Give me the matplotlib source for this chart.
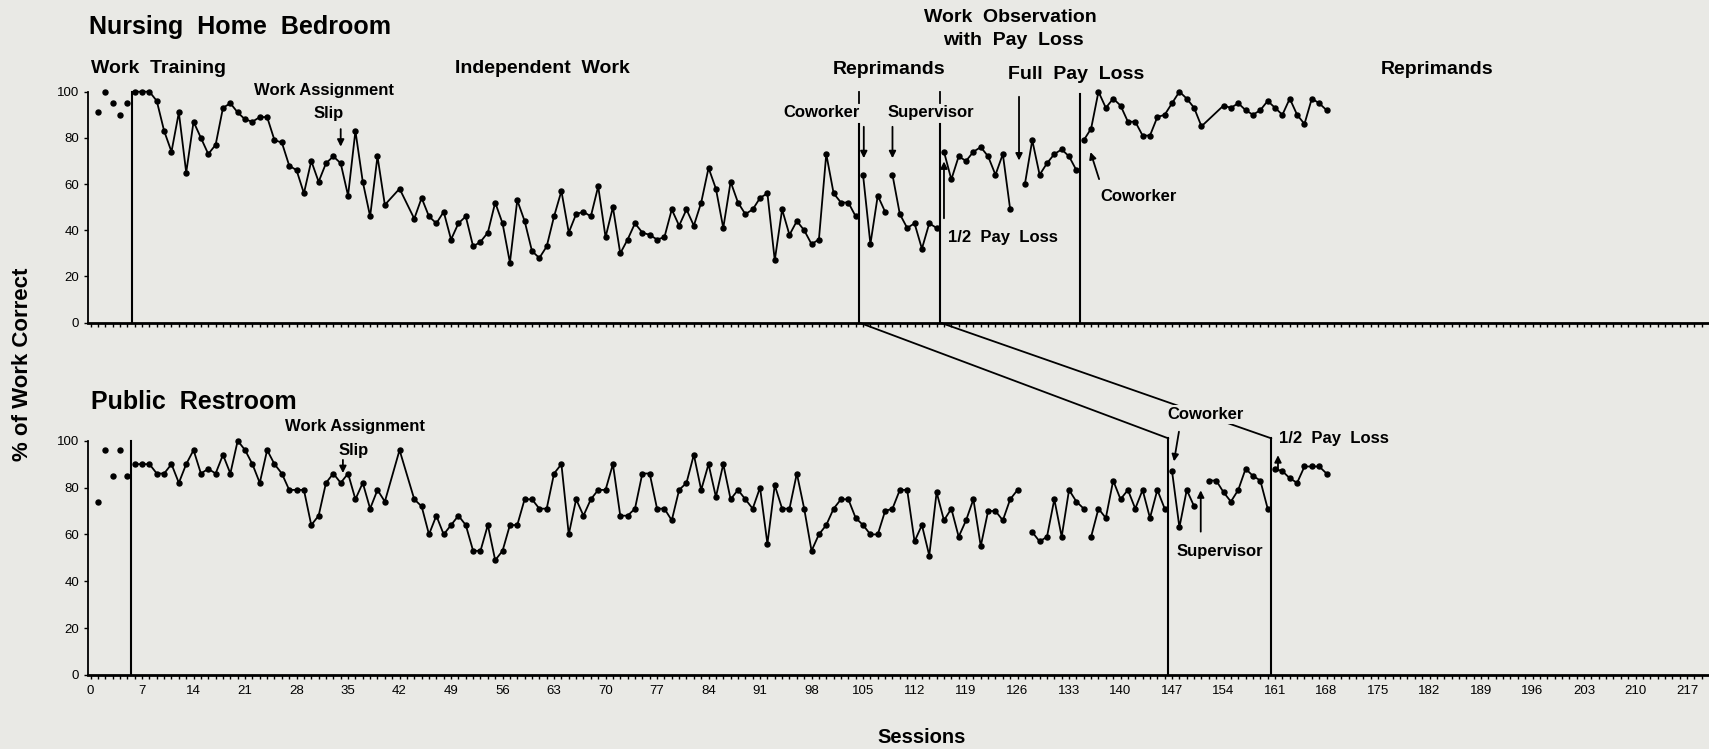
import matplotlib
matplotlib.use('Agg')
import matplotlib.pyplot as plt
from matplotlib.patches import ConnectionPatch

# ---- Nursing Home Bedroom (top) ----
bed_base_s = [1, 2, 3, 4, 5]
bed_base_v = [91, 100, 95, 90, 95]

bed_indep_s = [6, 7, 8, 9, 10, 11, 12, 13, 14, 15, 16, 17, 18, 19, 20, 21, 22, 23, 24, 25,
               26, 27, 28, 29, 30, 31, 32, 33, 34, 35, 36, 37, 38, 39, 40, 42, 44, 45, 46, 47,
               48, 49, 50, 51, 52, 53, 54, 55, 56, 57, 58, 59, 60, 61, 62, 63, 64, 65, 66, 67,
               68, 69, 70, 71, 72, 73, 74, 75, 76, 77, 78, 79, 80, 81, 82, 83, 84, 85, 86, 87,
               88, 89, 90, 91, 92, 93, 94, 95, 96, 97, 98, 99, 100, 101, 102, 103, 104]
bed_indep_v = [100, 100, 100, 96, 83, 74, 91, 65, 87, 80, 73, 77, 93, 95, 91, 88, 87, 89, 89, 79,
               78, 68, 66, 56, 70, 61, 69, 72, 69, 55, 83, 61, 46, 72, 51, 58, 45, 54, 46, 43,
               48, 36, 43, 46, 33, 35, 39, 52, 43, 26, 53, 44, 31, 28, 33, 46, 57, 39, 47, 48,
               46, 59, 37, 50, 30, 36, 43, 39, 38, 36, 37, 49, 42, 49, 42, 52, 67, 58, 41, 61,
               52, 47, 49, 54, 56, 27, 49, 38, 44, 40, 34, 36, 73, 56, 52, 52, 46]

bed_cow_s = [105, 106, 107, 108]
bed_cow_v = [64, 34, 55, 48]
bed_sup_s = [109, 110, 111, 112, 113, 114, 115]
bed_sup_v = [64, 47, 41, 43, 32, 43, 41]
bed_half_s = [116, 117, 118, 119, 120, 121, 122, 123, 124, 125]
bed_half_v = [74, 62, 72, 70, 74, 76, 72, 64, 73, 49]
bed_full_s = [127, 128, 129, 130, 131, 132, 133, 134]
bed_full_v = [60, 79, 64, 69, 73, 75, 72, 66]
bed_rep_s = [135, 136, 137, 138, 139, 140, 141, 142, 143, 144, 145, 146, 147, 148, 149, 150,
             151, 154, 155, 156, 157, 158, 159, 160, 161, 162, 163, 164, 165, 166, 167, 168]
bed_rep_v = [79, 84, 100, 93, 97, 94, 87, 87, 81, 81, 89, 90, 95, 100, 97, 93,
             85, 94, 93, 95, 92, 90, 92, 96, 93, 90, 97, 90, 86, 97, 95, 92]

# ---- Public Restroom (bottom) ----
rest_base_s = [1, 2, 3, 4, 5]
rest_base_v = [74, 96, 85, 96, 85]

rest_indep_s = [6, 7, 8, 9, 10, 11, 12, 13, 14, 15, 16, 17, 18, 19, 20, 21, 22, 23, 24, 25,
                26, 27, 28, 29, 30, 31, 32, 33, 34, 35, 36, 37, 38, 39, 40, 42, 44, 45, 46, 47,
                48, 49, 50, 51, 52, 53, 54, 55, 56, 57, 58, 59, 60, 61, 62, 63, 64, 65, 66, 67,
                68, 69, 70, 71, 72, 73, 74, 75, 76, 77, 78, 79, 80, 81, 82, 83, 84, 85, 86, 87,
                88, 89, 90, 91, 92, 93, 94, 95, 96, 97, 98, 99, 100, 101, 102, 103, 104, 105,
                106, 107, 108, 109, 110, 111, 112, 113, 114, 115, 116, 117, 118, 119, 120, 121,
                122, 123, 124, 125, 126]
rest_indep_v = [90, 90, 90, 86, 86, 90, 82, 90, 96, 86, 88, 86, 94, 86, 100, 96, 90, 82, 96, 90,
                86, 79, 79, 79, 64, 68, 82, 86, 82, 86, 75, 82, 71, 79, 74, 96, 75, 72, 60, 68,
                60, 64, 68, 64, 53, 53, 64, 49, 53, 64, 64, 75, 75, 71, 71, 86, 90, 60, 75, 68,
                75, 79, 79, 90, 68, 68, 71, 86, 86, 71, 71, 66, 79, 82, 94, 79, 90, 76, 90, 75,
                79, 75, 71, 80, 56, 81, 71, 71, 86, 71, 53, 60, 64, 71, 75, 75, 67, 64,
                60, 60, 70, 71, 79, 79, 57, 64, 51, 78, 66, 71, 59, 66, 75, 55,
                70, 70, 66, 75, 79]
rest_indep2_s = [128, 129, 130, 131, 132, 133, 134, 135]
rest_indep2_v = [61, 57, 59, 75, 59, 79, 74, 71]
rest_indep3_s = [136, 137, 138, 139, 140, 141, 142, 143, 144, 145, 146]
rest_indep3_v = [59, 71, 67, 83, 75, 79, 71, 79, 67, 79, 71]
rest_cow_s = [147, 148, 149, 150]
rest_cow_v = [87, 63, 79, 72]
rest_sup_s = [152, 153, 154, 155, 156, 157, 158, 159, 160]
rest_sup_v = [83, 83, 78, 74, 79, 88, 85, 83, 71]
rest_half_s = [161, 162, 163, 164, 165, 166, 167, 168]
rest_half_v = [88, 87, 84, 82, 89, 89, 89, 86]

bg = '#e9e9e5'
plt.rcParams['font.family'] = ['Liberation Sans', 'DejaVu Sans']

fig = plt.figure(figsize=(17.09, 7.49), dpi=100, facecolor=bg)
ax1 = fig.add_axes([0.0517, 0.5692, 0.9475, 0.3084])
ax2 = fig.add_axes([0.0517, 0.0988, 0.9475, 0.3128])

line_kw = dict(color='black', lw=1.3, marker='o', ms=3.6, clip_on=False, zorder=3)
arrow_kw = dict(arrowstyle='-|>', color='black', lw=1.3, mutation_scale=10)


def setup(ax, labels):
    ax.set_facecolor(bg)
    ax.set_xlim(-0.3, 219.8)
    ax.set_ylim(0, 100)
    for side in ['top', 'right']:
        ax.spines[side].set_visible(False)
    ax.spines['left'].set_bounds(0, 100)
    ax.spines['left'].set_linewidth(1.3)
    ax.spines['bottom'].set_linewidth(2)
    ax.set_xticks(range(0, 218, 7))
    ax.set_xticks(range(0, 220), minor=True)
    ax.set_yticks([0, 20, 40, 60, 80, 100])
    ax.tick_params(axis='x', which='both', direction='out', length=3, width=1,
                   labelsize=9.5, labelbottom=labels, pad=4)
    ax.tick_params(axis='y', direction='out', length=3, width=1, labelsize=9.5)


def phase_line(ax, s, top):
    ax.plot([s, s], [0, top], color='black', lw=1.5, clip_on=False, zorder=2)


def arrow(ax, s0, v0, s1, v1):
    ax.annotate('', xy=(s1, v1), xytext=(s0, v0), arrowprops=arrow_kw,
                annotation_clip=False)


def label(ax, s, v, text, size, ha='center', **kw):
    ax.text(s, v, text, ha=ha, va='center', fontsize=size, fontweight='bold',
            clip_on=False, **kw)


# ---- top panel ----
setup(ax1, False)
ax1.plot(bed_base_s, bed_base_v, 'o', color='black', ms=3.6, clip_on=False)
for xs, ys in [(bed_indep_s, bed_indep_v), (bed_cow_s, bed_cow_v), (bed_sup_s, bed_sup_v),
               (bed_half_s, bed_half_v), (bed_full_s, bed_full_v), (bed_rep_s, bed_rep_v)]:
    ax1.plot(xs, ys, **line_kw)

phase_line(ax1, 5.6, 100)
phase_line(ax1, 104.5, 86)
phase_line(ax1, 115.5, 86)
phase_line(ax1, 134.5, 99)
for s in [104.5, 115.5]:
    ax1.plot([s, s], [95, 100], color='black', lw=1.3, clip_on=False)

label(ax1, -0.2, 128, 'Nursing  Home  Bedroom', 18, ha='left')
label(ax1, 0.1, 110, 'Work  Training', 14, ha='left')
label(ax1, 49.5, 110, 'Independent  Work', 14, ha='left')
label(ax1, 31.7, 100.5, 'Work Assignment', 12)
label(ax1, 32.3, 90.5, 'Slip', 12)
arrow(ax1, 34, 85, 34, 75)
label(ax1, 108.5, 109.5, 'Reprimands', 14)
label(ax1, 99.4, 91, 'Coworker', 12)
label(ax1, 114.2, 91, 'Supervisor', 12)
arrow(ax1, 105.1, 86, 105.1, 70)
arrow(ax1, 109, 86, 109, 70)
label(ax1, 125, 132, 'Work  Observation', 14)
label(ax1, 125.5, 122, 'with  Pay  Loss', 14)
label(ax1, 134, 107.5, 'Full  Pay  Loss', 14)
arrow(ax1, 126.2, 99, 126.2, 69)
arrow(ax1, 116, 44, 116, 71)
label(ax1, 124, 37, '1/2  Pay  Loss', 12)
arrow(ax1, 137.2, 61, 135.8, 75)
label(ax1, 142.4, 54.5, 'Coworker', 12)
label(ax1, 183, 109.5, 'Reprimands', 14)

# ---- bottom panel ----
setup(ax2, True)
ax2.plot(rest_base_s, rest_base_v, 'o', color='black', ms=3.6, clip_on=False)
for xs, ys in [(rest_indep_s, rest_indep_v), (rest_indep2_s, rest_indep2_v),
               (rest_indep3_s, rest_indep3_v), (rest_cow_s, rest_cow_v),
               (rest_sup_s, rest_sup_v), (rest_half_s, rest_half_v)]:
    ax2.plot(xs, ys, **line_kw)

phase_line(ax2, 5.5, 100)
phase_line(ax2, 146.5, 101)
phase_line(ax2, 160.5, 101)

label(ax2, 0.1, 116.6, 'Public  Restroom', 18, ha='left')
label(ax2, 35.9, 106, 'Work Assignment', 12)
label(ax2, 35.8, 96, 'Slip', 12)
arrow(ax2, 34.3, 93, 34.3, 85)
label(ax2, 151.6, 111, 'Coworker', 12, zorder=6,
      bbox=dict(facecolor=bg, edgecolor='none', pad=1.5))
arrow(ax2, 148, 105, 147.2, 90)
arrow(ax2, 150.9, 60, 150.9, 80)
label(ax2, 153.5, 52.6, 'Supervisor', 12)
arrow(ax2, 161.4, 86, 161.4, 95)
label(ax2, 169, 101, '1/2  Pay  Loss', 12)

# connectors from top reprimand lines to bottom ones
for sa, sb in [(104.5, 146.5), (115.5, 160.5)]:
    con = ConnectionPatch(xyA=(sa, 0), coordsA=ax1.transData, xyB=(sb, 101),
                          coordsB=ax2.transData, color='black', lw=1.3, zorder=1)
    ax2.add_artist(con)

fig.text(0.013, 0.513, '% of Work Correct', rotation=90, ha='center', va='center',
         fontsize=16, fontweight='bold')
fig.text(0.539, 0.016, 'Sessions', ha='center', va='center', fontsize=14.5,
         fontweight='bold')

fig.savefig('out.png', dpi=100, facecolor=bg)
